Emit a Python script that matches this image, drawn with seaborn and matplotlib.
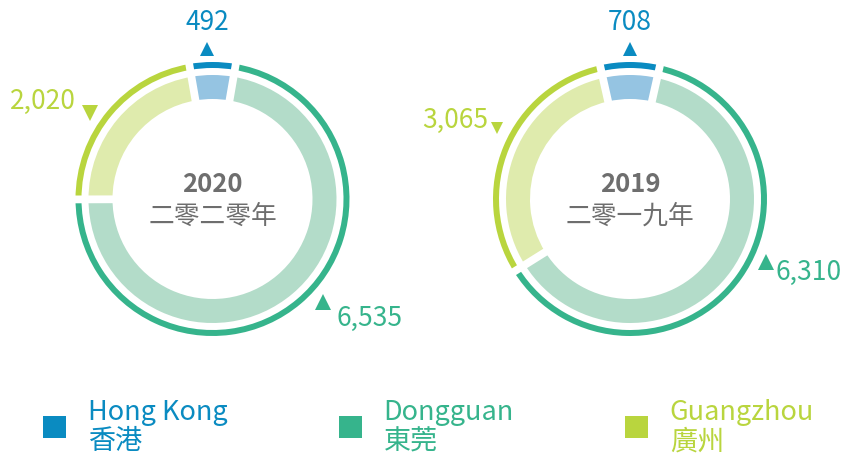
import matplotlib
matplotlib.use("Agg")
import matplotlib.pyplot as plt
from matplotlib.patches import Patch
import seaborn as sns
import numpy as np

# data
regions = ["Hong Kong", "Dongguan", "Guangzhou"]
regions_zh = ["香港", "東莞", "廣州"]
years = ["2020", "2019"]
years_zh = ["二零二零年", "二零一九年"]
values_2020 = [492, 6535, 2020]
values_2019 = [708, 6310, 3065]

outer_colors = ["#0a8bc1", "#36b48c", "#b9d53e"]
inner_colors = ["#95c4e2", "#b3dcc9", "#dfebad"]
grey = "#6e6e6e"

W, H = 848, 456
# layout (pixel coords, y measured from top)
centers = [(212.5, 200), (630, 200)]
label_pos = [
    [(207, 22), (370, 318), (43, 101)],
    [(630, 22), (809, 272), (455, 120)],
]
marker_pos = [
    [(207, 50, "^", 10.5), (323, 303, "^", 11), (90, 114, "v", 11)],
    [(630, 50, "^", 9.5), (766, 263, "^", 11), (497, 129, "v", 8.5)],
]

sns.set_theme(style="white")
plt.rcParams["font.family"] = ["Noto Sans CJK TC", "DejaVu Sans"]

fig = plt.figure(figsize=(W / 100, H / 100), dpi=100)
ax = fig.add_axes([0, 0, 1, 1])


def donut(ax, values, center):
    cx, cy = center[0], H - center[1]
    total = sum(values)
    start = 90 + 360 * values[0] / total / 2
    ax.pie(values, startangle=start, counterclock=False, radius=137, center=(cx, cy),
           colors=outer_colors, wedgeprops=dict(width=6, linewidth=0), frame=True)
    ax.pie(values, startangle=start, counterclock=False, radius=124, center=(cx, cy),
           colors=inner_colors, wedgeprops=dict(width=24, linewidth=0), frame=True)
    # white separators between slices
    bounds = start - 360 * np.cumsum([0] + list(values[:-1])) / total
    for a in np.deg2rad(bounds):
        ax.plot([cx + 95 * np.cos(a), cx + 142 * np.cos(a)],
                [cy + 95 * np.sin(a), cy + 142 * np.sin(a)],
                color="white", lw=5.6, solid_capstyle="butt", zorder=5)


for i, vals in enumerate([values_2020, values_2019]):
    cx, cy = centers[i]
    donut(ax, vals, centers[i])
    ax.text(cx, H - 185, years[i], ha="center", va="center", fontsize=18.5,
            fontweight="bold", color=grey)
    ax.text(cx, H - 217, years_zh[i], ha="center", va="center", fontsize=18.5, color=grey)
    for j, v in enumerate(vals):
        lx, ly = label_pos[i][j]
        ax.text(lx, H - ly, f"{v:,}", ha="center", va="center", fontsize=19,
                color=outer_colors[j])
        mx, my, mk, ms = marker_pos[i][j]
        ax.plot(mx, H - my, marker=mk, ms=ms, color=outer_colors[j], mew=0, zorder=6)

handles = [Patch(facecolor=c, edgecolor="none") for c in outer_colors]
labels = [f"{en}\n{zh}" for en, zh in zip(regions, regions_zh)]
leg = ax.legend(handles, labels, loc="upper left", bbox_to_anchor=(43, H - 399),
                bbox_transform=ax.transData, ncol=3, frameon=False, fontsize=19.5,
                labelcolor=outer_colors, handlelength=0.85, handleheight=0.85,
                handletextpad=0.81, columnspacing=4.1, borderpad=0, borderaxespad=0)
for t in leg.get_texts():
    t.set_linespacing(1.1)

ax.set_xlim(0, W)
ax.set_ylim(0, H)
ax.set_aspect("equal")
ax.axis("off")

fig.savefig("out.png", dpi=100)
